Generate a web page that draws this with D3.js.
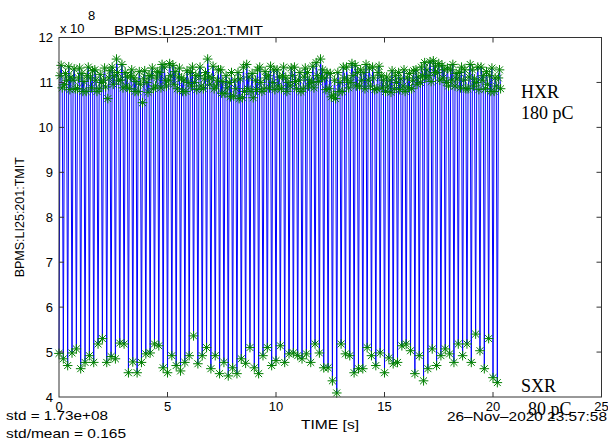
<!DOCTYPE html>
<head>
  <meta charset="utf-8">
  <script src="https://d3js.org/d3.v7.min.js"></script>
  <style>
    body { margin: 0; background: #fff; }
    text { font-family: "Liberation Sans", Arial, sans-serif; fill: #000; }
    text.tick { font-size: 13px; }
    text.note { font-size: 13px; }
    text.beam { font-family: "Liberation Serif", "Times New Roman", serif; font-size: 18px; }
  </style>
</head>
<body>
  <script>
    var width = 608, height = 443;
    var margin = { top: 37.5, right: 6, bottom: 46, left: 59 };

    // sample period [s]; each cycle is one SXR pulse followed by three HXR pulses
    var dt = 0.05;
    var hxrPerCycle = 3;

    // SXR (80 pC) pulses, x 1e8
    var sxr = [4.97, 4.85, 4.70, 4.98, 5.07, 4.63, 4.77, 4.92, 4.77, 5.18,
      5.30, 4.77, 4.90, 4.85, 5.20, 5.18, 4.54, 4.78, 4.54, 4.77,
      4.96, 4.98, 5.18, 5.14, 4.65, 4.54, 4.92, 4.70, 4.58, 4.77,
      4.92, 5.36, 4.74, 4.92, 5.10, 4.63, 4.92, 4.52, 4.77, 4.47,
      4.65, 4.52, 4.85, 4.75, 5.10, 4.65, 4.52, 4.92, 5.10, 4.70,
      4.81, 5.14, 4.77, 4.96, 4.98, 4.92, 4.85, 4.96, 4.77, 5.18,
      4.98, 4.65, 4.65, 4.36, 4.09, 5.18, 4.96, 4.92, 4.54, 4.63,
      4.63, 5.10, 4.92, 4.70, 4.98, 4.54, 4.87, 4.74, 4.77, 5.14,
      5.18, 5.03, 4.52, 4.92, 4.36, 4.63, 5.07, 4.70, 4.92, 5.07,
      4.96, 4.77, 5.18, 4.92, 5.18, 4.77, 5.40, 5.03, 4.63, 5.30,
      4.43, 4.32];

    // HXR (180 pC) pulses, x 1e8, three per SXR pulse
    var hxr = [
      11.15, 11.38, 10.88,  10.95, 11.20, 11.05,  11.35, 10.84, 11.12,
      11.05, 11.30, 10.86,  10.86, 11.10, 11.32,  11.20, 10.80, 11.02,
      10.80, 11.15, 11.34,  11.10, 10.88, 11.26,  11.28, 11.05, 10.80,
      10.86, 11.18, 11.00,  11.05, 11.32, 10.90,  10.64, 11.10, 11.26,
      11.34, 10.96, 11.15,  11.52, 11.22, 11.05,  11.05, 11.40, 10.88,
      11.22, 10.92, 11.12,  10.86, 11.15, 11.28,  11.10, 10.80, 11.02,
      10.80, 11.24, 10.96,  10.55, 11.08, 11.26,  11.00, 10.78, 11.15,
      11.15, 11.32, 10.86,  10.92, 11.10, 11.24,  11.22, 10.88, 11.40,
      11.34, 11.05, 10.92,  11.05, 11.42, 11.15,  11.38, 10.96, 11.24,
      10.86, 11.12, 11.32,  11.10, 10.80, 11.05,  10.80, 11.26, 11.00,
      11.22, 10.92, 11.34,  11.00, 11.15, 10.84,  11.15, 11.34, 10.92,
      10.86, 11.08, 11.22,  11.52, 11.12, 10.96,  11.10, 11.36, 10.86,
      10.92, 11.05, 11.28,  11.28, 10.76, 11.02,  10.76, 11.15, 10.88,
      11.00, 10.68, 11.22,  10.70, 11.05, 10.86,  11.22, 10.64, 11.08,
      10.66, 11.34, 10.80,  11.40, 10.86, 11.12,  10.80, 11.20, 10.66,
      11.05, 10.84, 11.28,  11.34, 11.00, 10.80,  10.86, 11.24, 11.10,
      11.15, 10.88, 11.36,  11.00, 11.28, 10.84,  11.28, 10.92, 11.12,
      10.86, 11.15, 11.34,  11.10, 10.80, 11.00,  10.92, 11.32, 11.15,
      11.34, 11.02, 10.86,  11.05, 11.22, 10.80,  10.86, 11.12, 11.32,
      11.22, 10.92, 11.05,  11.00, 11.36, 10.88,  11.44, 11.15, 11.02,
      11.52, 11.10, 11.28,  11.10, 10.84, 11.22,  10.86, 11.20, 10.68,
      10.72, 11.05, 10.64,  11.22, 10.80, 11.00,  10.80, 11.34, 11.10,
      11.34, 11.05, 10.88,  11.00, 11.42, 11.15,  11.38, 10.92, 11.22,
      10.92, 11.28, 11.05,  11.22, 10.86, 11.40,  11.05, 11.32, 10.92,
      11.34, 11.10, 10.84,  10.86, 11.22, 11.36,  11.15, 10.88, 11.05,
      10.80, 11.12, 10.92,  11.05, 10.78, 11.26,  10.86, 11.15, 11.00,
      11.22, 10.84, 11.08,  10.92, 11.28, 10.80,  11.10, 10.88, 11.20,
      10.86, 11.05, 11.26,  11.28, 10.96, 11.12,  11.00, 11.34, 11.15,
      11.44, 11.10, 11.28,  11.15, 11.46, 11.02,  11.48, 11.22, 11.36,
      11.22, 11.42, 11.05,  11.38, 11.10, 11.28,  11.00, 11.32, 10.92,
      11.28, 11.05, 11.40,  10.92, 11.20, 11.08,  11.22, 10.88, 11.34,
      11.05, 11.28, 10.86,  10.86, 11.12, 11.40,  11.28, 10.92, 11.08,
      11.00, 11.34, 10.84,  11.34, 11.05, 11.15,  10.86, 11.24, 10.96,
      11.15, 10.80, 11.32,  10.80, 11.10, 10.92,  11.10, 11.28, 10.86];

    var xTicks = [0, 5, 10, 15, 20, 25];
    var yTicks = [4, 5, 6, 7, 8, 9, 10, 11, 12];

    // interleave the two beams in time order
    var pulses = [];
    var n = 0;
    sxr.forEach(function (v, i) {
      pulses.push({ t: n++ * dt, v: v });
      for (var j = 0; j < hxrPerCycle; j++) {
        pulses.push({ t: n++ * dt, v: hxr[i * hxrPerCycle + j] });
      }
    });

    var svg = d3.select("body").append("svg")
      .attr("width", width)
      .attr("height", height);

    var x = d3.scaleLinear()
      .domain([0, 25])
      .range([margin.left, width - margin.right - 0.5]);

    var y = d3.scaleLinear()
      .domain([4, 12])
      .range([height - margin.bottom, margin.top]);

    var line = d3.line()
      .x(d => x(d.t))
      .y(d => y(d.v));

    svg.append("path")
      .datum(pulses)
      .attr("fill", "none")
      .attr("stroke", "#0000ff")
      .attr("stroke-width", 1)
      .attr("d", line);

    var r = 4.8;
    var k = r * 0.72;
    var star = `M${-r},0H${r}M0,${-r}V${r}M${-k},${-k}L${k},${k}M${-k},${k}L${k},${-k}`;

    svg.selectAll("path.star")
      .data(pulses)
      .enter()
      .append("path")
      .attr("class", "star")
      .attr("transform", d => `translate(${x(d.t)},${y(d.v)})`)
      .attr("d", star)
      .attr("fill", "none")
      .attr("stroke", "#008000")
      .attr("stroke-width", 1);

    // box with inward ticks on all four sides
    var x0 = x(0), x1 = x(25), y0 = y(4), y1 = y(12);
    svg.append("rect")
      .attr("x", x0).attr("y", y1)
      .attr("width", x1 - x0).attr("height", y0 - y1)
      .attr("fill", "none")
      .attr("stroke", "#333")
      .attr("stroke-width", 1);

    var tl = 5;
    svg.append("g").selectAll("path")
      .data(xTicks.slice(1, -1))
      .enter()
      .append("path")
      .attr("d", d => `M${x(d)},${y0}v${-tl}M${x(d)},${y1}v${tl}`)
      .attr("stroke", "#333");

    svg.append("g").selectAll("path")
      .data(yTicks.slice(1, -1))
      .enter()
      .append("path")
      .attr("d", d => `M${x0},${y(d)}h${tl}M${x1},${y(d)}h${-tl}`)
      .attr("stroke", "#333");

    svg.selectAll("text.xtick")
      .data(xTicks)
      .enter()
      .append("text")
      .attr("class", "tick")
      .attr("x", d => x(d))
      .attr("y", 411)
      .style("text-anchor", "middle")
      .text(d => d);

    svg.selectAll("text.ytick")
      .data(yTicks)
      .enter()
      .append("text")
      .attr("class", "tick")
      .attr("x", 53)
      .attr("y", d => y(d) + 4.5)
      .style("text-anchor", "end")
      .text(d => d);

    // exponent
    svg.append("text").attr("class", "note")
      .attr("x", 60).attr("y", 33).text("x 10");
    svg.append("text").attr("class", "note")
      .attr("x", 88).attr("y", 20).text("8");

    svg.append("text").attr("class", "note")
      .attr("x", 114).attr("y", 35)
      .attr("textLength", 149).attr("lengthAdjust", "spacingAndGlyphs")
      .text("BPMS:LI25:201:TMIT");

    svg.append("text")
      .attr("class", "note")
      .style("font-size", "12.5px")
      .style("text-anchor", "middle")
      .attr("transform", `translate(24,${(y0 + y1) / 2}) rotate(-90)`)
      .text("BPMS:LI25:201:TMIT");

    svg.append("text").attr("class", "note")
      .attr("x", 301).attr("y", 429)
      .attr("textLength", 58).attr("lengthAdjust", "spacingAndGlyphs")
      .text("TIME [s]");

    svg.append("text").attr("class", "note")
      .attr("x", 6).attr("y", 420)
      .attr("textLength", 102).attr("lengthAdjust", "spacingAndGlyphs")
      .text("std = 1.73e+08");

    svg.append("text").attr("class", "note")
      .attr("x", 6).attr("y", 438)
      .attr("textLength", 120).attr("lengthAdjust", "spacingAndGlyphs")
      .text("std/mean = 0.165");

    svg.append("text").attr("class", "note")
      .attr("x", 447).attr("y", 421)
      .attr("textLength", 160).attr("lengthAdjust", "spacingAndGlyphs")
      .text("26\u2013Nov\u20132020 23:57:58");

    // beam annotations
    svg.append("text").attr("class", "beam")
      .attr("x", 521).attr("y", 98).text("HXR");
    svg.append("text").attr("class", "beam")
      .attr("x", 521).attr("y", 119).text("180 pC");
    svg.append("text").attr("class", "beam")
      .attr("x", 521).attr("y", 392).text("SXR");
    svg.append("text").attr("class", "beam")
      .attr("x", 528).attr("y", 415).text("80 pC");
  </script>
</body>
